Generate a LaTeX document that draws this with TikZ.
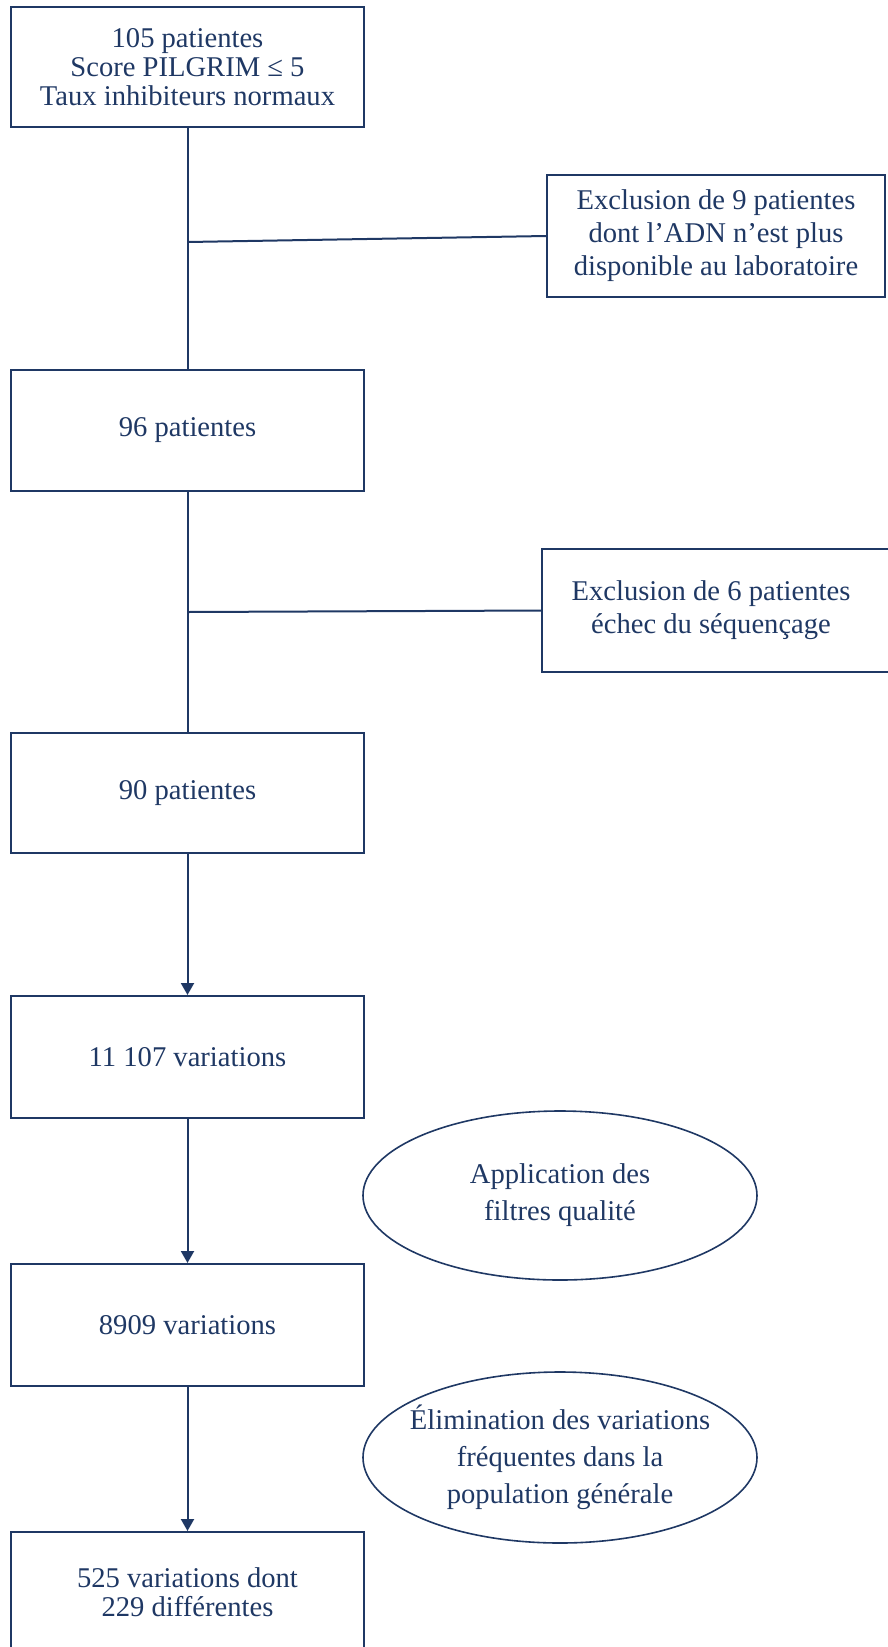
\documentclass[tikz,border=0pt]{standalone}
\usepackage{fontspec}
\setmainfont{Liberation Serif}
\usetikzlibrary{arrows.meta,shapes.geometric}
\definecolor{navy}{RGB}{31,56,100}
\tikzset{
  mainbox/.style={draw=navy, line width=2pt, text=navy, minimum width=353pt, align=center, font=\fontsize{28.6}{29}\selectfont},
  sidebox/.style={draw=navy, line width=2pt, text=navy, align=center, font=\fontsize{28.6}{33}\selectfont},
  oval/.style={ellipse, draw=navy, line width=1.6pt, minimum width=394pt, inner sep=0pt},
  ovaltext/.style={text=navy, align=center, font=\fontsize{28.6}{37}\selectfont},
  link/.style={draw=navy, line width=2pt},
  flow/.style={link, -{Triangle[width=13pt,length=12pt]}}
}
\begin{document}
\begin{tikzpicture}[x=1pt, y=-1pt]
   \useasboundingbox (0,0) rectangle (887,1647);
   \node[mainbox, minimum height=120pt] (start) at (187.5,67) {105 patientes\\Score PILGRIM ≤ 5\\Taux inhibiteurs normaux};
   \node[sidebox, minimum width=338pt, minimum height=122pt] (exclDNA) at (716,236) {Exclusion de 9 patientes\\dont l’ADN n’est plus\\disponible au laboratoire};
   \node[mainbox, minimum height=121pt] (pat96) at (187.5,430) {96 patientes};
   \node[sidebox, minimum width=360pt, minimum height=123pt] (exclSeq) at (722,610.5) {\hspace*{-22pt}Exclusion de 6 patientes\\\hspace*{-22pt}échec du séquençage};
   \node[mainbox, minimum height=120pt] (pat90) at (187.5,793) {90 patientes};
   \node[mainbox, minimum height=122pt] (var11107) at (187.5,1057) {11 107 variations};
   \node[mainbox, minimum height=122pt] (var8909) at (187.5,1325) {8909 variations};
   \node[mainbox, minimum height=120pt] (var525) at (187.5,1592) {525 variations dont\\229 différentes};
   \node[oval, minimum height=169pt, label={[ovaltext]center:{Application des\\filtres qualité}}] (quality) at (560,1195.5) {};
   \node[oval, minimum height=171pt, label={[ovaltext]center:{Élimination des variations\\fréquentes dans la\\population générale}}] (frequent) at (560,1457.5) {};
   % exclusions branch off the main line
   \coordinate (split1) at (187.5,242);
   \coordinate (split2) at (187.5,612);
   \draw[link] (start) -- (pat96);
   \draw[link] (split1) -- (exclDNA.west);
   \draw[link] (pat96) -- (pat90);
   \draw[link] (split2) -- (exclSeq.west);
   % variant filtering
   \draw[flow] (pat90) -- (var11107);
   \draw[flow] (var11107) -- (var8909);
   \draw[flow] (var8909) -- (var525);
\end{tikzpicture}
\end{document}
